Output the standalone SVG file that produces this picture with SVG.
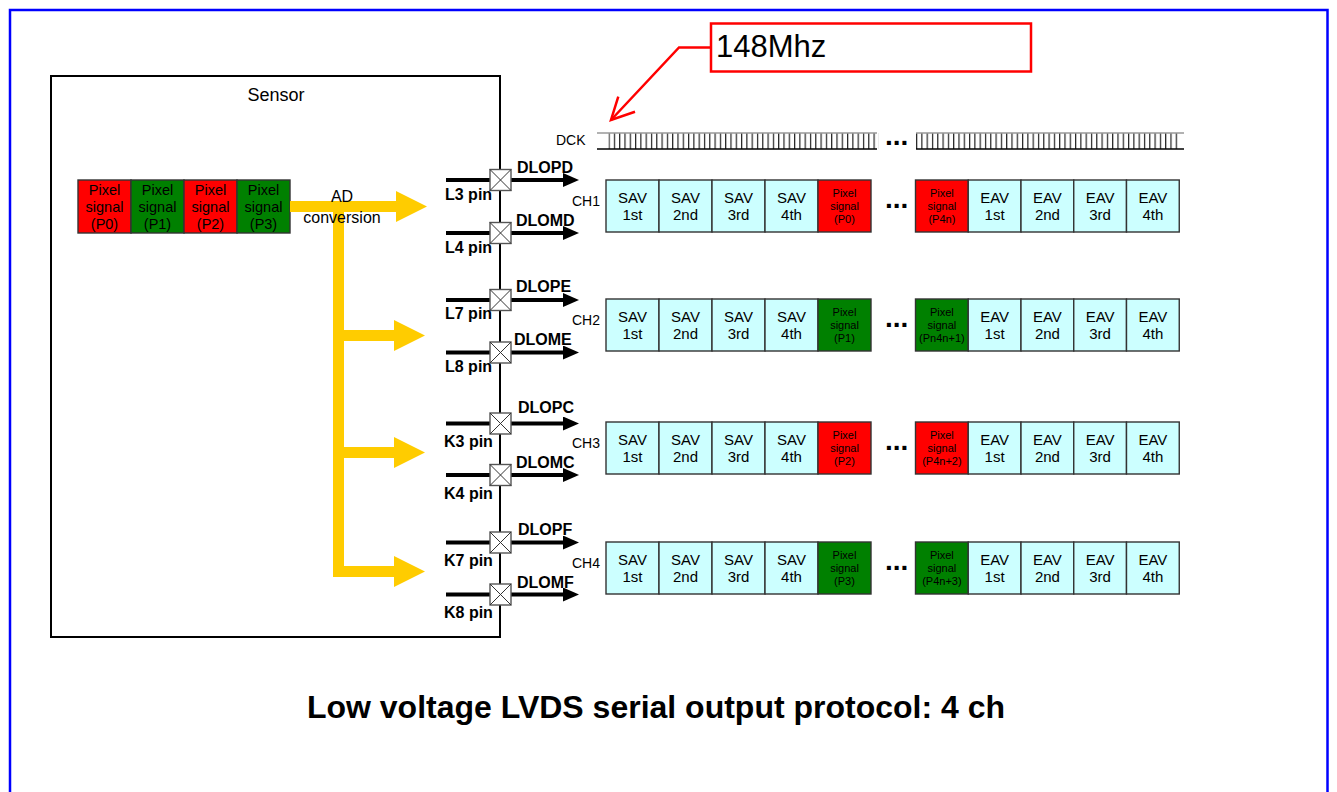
<svg xmlns="http://www.w3.org/2000/svg" width="1337" height="792" viewBox="0 0 1337 792">
<defs>
<style>
text{font-family:"Liberation Sans",Arial,sans-serif;fill:#000}
.c{text-anchor:middle}
.sav{fill:#ccffff;stroke:#333;stroke-width:1.4}
.red{fill:#ff0000;stroke:#333;stroke-width:1.4}
.grn{fill:#008000;stroke:#333;stroke-width:1.4}
.t15{font-size:15px}
.t11{font-size:11px}
.t14{font-size:14px}
.lbl{font-size:16px;font-weight:bold}
.dots{font-size:28px;font-weight:bold}
.pin{stroke:#000;stroke-width:4;fill:none}
.xbox{fill:#fff;stroke:#555;stroke-width:1.4}
.xl{stroke:#333;stroke-width:1}
.yel{fill:#ffcc00}
.clkt{stroke:#999;stroke-width:1.3;fill:none}
.clkb{stroke:#000;stroke-width:1.5;fill:none}
</style>
<marker id="ah" markerUnits="userSpaceOnUse" markerWidth="16" markerHeight="14" refX="2" refY="7" orient="auto">
<path d="M0,0 L16,7 L0,14 z" fill="#000"/>
</marker>
<pattern id="tk1" x="608.5" y="133" width="5.3" height="16" patternUnits="userSpaceOnUse"><rect x="0" y="0" width="1.2" height="16" fill="#222"/></pattern>
<pattern id="tk2" x="916" y="133" width="5.3" height="16" patternUnits="userSpaceOnUse"><rect x="0" y="0" width="1.2" height="16" fill="#222"/></pattern>
</defs>
<rect x="0" y="0" width="1337" height="792" fill="#fff"/>
<rect id="frame" x="10" y="10" width="1317.5" height="800" fill="none" stroke="#0000ff" stroke-width="2.5"/>

<g id="sensor">
<rect x="51" y="76" width="449" height="561" fill="#fff" stroke="#000" stroke-width="2"/>
<text x="276" y="101" class="c" font-size="18">Sensor</text>
</g>

<g id="pixels">
<rect x="78" y="180" width="53" height="53" class="red"/>
<rect x="131" y="180" width="53" height="53" class="grn"/>
<rect x="184" y="180" width="53" height="53" class="red"/>
<rect x="237" y="180" width="53" height="53" class="grn"/>
<g font-size="14.5" class="c">
<text x="104.5" y="195" class="c">Pixel</text><text x="104.5" y="212" class="c">signal</text><text x="104.5" y="229" class="c">(P0)</text>
<text x="157.5" y="195" class="c">Pixel</text><text x="157.5" y="212" class="c">signal</text><text x="157.5" y="229" class="c">(P1)</text>
<text x="210.5" y="195" class="c">Pixel</text><text x="210.5" y="212" class="c">signal</text><text x="210.5" y="229" class="c">(P2)</text>
<text x="263.5" y="195" class="c">Pixel</text><text x="263.5" y="212" class="c">signal</text><text x="263.5" y="229" class="c">(P3)</text>
</g>
</g>

<g id="connectors">
<g id="ad-arrows" class="yel">
<polygon points="290,201 396,201 396,191 427,206.5 396,222 396,212 290,212"/>
<rect x="333" y="212" width="11" height="365"/>
<polygon points="344,330 394,330 394,320 425,335.5 394,351 394,341 344,341"/>
<polygon points="344,447 394,447 394,437 425,452.5 394,468 394,458 344,458"/>
<polygon points="344,566 394,566 394,556 425,571.5 394,587 394,577 344,577"/>
</g>
<g id="pin-lines">
<line x1="446" y1="180" x2="490" y2="180" class="pin"/><line x1="511" y1="180" x2="565" y2="180" class="pin" marker-end="url(#ah)"/>
<line x1="446" y1="233" x2="490" y2="233" class="pin"/><line x1="511" y1="233" x2="565" y2="233" class="pin" marker-end="url(#ah)"/>
<line x1="446" y1="300" x2="490" y2="300" class="pin"/><line x1="511" y1="300" x2="565" y2="300" class="pin" marker-end="url(#ah)"/>
<line x1="446" y1="352.5" x2="490" y2="352.5" class="pin"/><line x1="511" y1="352.5" x2="565" y2="352.5" class="pin" marker-end="url(#ah)"/>
<line x1="446" y1="423.5" x2="490" y2="423.5" class="pin"/><line x1="511" y1="423.5" x2="565" y2="423.5" class="pin" marker-end="url(#ah)"/>
<line x1="446" y1="475" x2="490" y2="475" class="pin"/><line x1="511" y1="475" x2="565" y2="475" class="pin" marker-end="url(#ah)"/>
<line x1="446" y1="542.5" x2="490" y2="542.5" class="pin"/><line x1="511" y1="542.5" x2="565" y2="542.5" class="pin" marker-end="url(#ah)"/>
<line x1="446" y1="594.5" x2="490" y2="594.5" class="pin"/><line x1="511" y1="594.5" x2="565" y2="594.5" class="pin" marker-end="url(#ah)"/>
</g>
<g id="callout-arrow" fill="none" stroke="#ff0000" stroke-width="2.5" stroke-linejoin="miter">
<polyline points="710,47.5 679,47.5 611,120"/>
<polyline points="618.3,96.7 611,120 635,111.7"/>
</g>
</g>

<text x="342" y="202" class="c" font-size="16">AD</text>
<text x="342" y="222.5" class="c" font-size="16">conversion</text>

<g id="pins">
<g id="pin-L3"><rect x="490" y="169.5" width="21" height="21" class="xbox"/><path d="M490,169.5 L511,190.5 M511,169.5 L490,190.5" class="xl"/><text x="517" y="173" class="lbl">DLOPD</text><text x="445" y="200" class="lbl">L3 pin</text></g>
<g id="pin-L4"><rect x="490" y="222.5" width="21" height="21" class="xbox"/><path d="M490,222.5 L511,243.5 M511,222.5 L490,243.5" class="xl"/><text x="516" y="226" class="lbl">DLOMD</text><text x="445" y="252.5" class="lbl">L4 pin</text></g>
<g id="pin-L7"><rect x="490" y="289.5" width="21" height="21" class="xbox"/><path d="M490,289.5 L511,310.5 M511,289.5 L490,310.5" class="xl"/><text x="516" y="292" class="lbl">DLOPE</text><text x="445" y="318.5" class="lbl">L7 pin</text></g>
<g id="pin-L8"><rect x="490" y="342" width="21" height="21" class="xbox"/><path d="M490,342 L511,363 M511,342 L490,363" class="xl"/><text x="514" y="345" class="lbl">DLOME</text><text x="445" y="372" class="lbl">L8 pin</text></g>
<g id="pin-K3"><rect x="490" y="413" width="21" height="21" class="xbox"/><path d="M490,413 L511,434 M511,413 L490,434" class="xl"/><text x="518" y="413" class="lbl">DLOPC</text><text x="444" y="446.5" class="lbl">K3 pin</text></g>
<g id="pin-K4"><rect x="490" y="464.5" width="21" height="21" class="xbox"/><path d="M490,464.5 L511,485.5 M511,464.5 L490,485.5" class="xl"/><text x="516" y="468" class="lbl">DLOMC</text><text x="444" y="499" class="lbl">K4 pin</text></g>
<g id="pin-K7"><rect x="490" y="532" width="21" height="21" class="xbox"/><path d="M490,532 L511,553 M511,532 L490,553" class="xl"/><text x="518" y="535" class="lbl">DLOPF</text><text x="444" y="566" class="lbl">K7 pin</text></g>
<g id="pin-K8"><rect x="490" y="584" width="21" height="21" class="xbox"/><path d="M490,584 L511,605 M511,584 L490,605" class="xl"/><text x="517" y="587.5" class="lbl">DLOMF</text><text x="444" y="618" class="lbl">K8 pin</text></g>
</g>

<g id="callout">
<rect x="711" y="23.5" width="320" height="48" fill="#fff" stroke="#ff0000" stroke-width="2.5"/>
<text x="716" y="57" font-size="31">148Mhz</text>
</g>

<g id="dck">
<text x="556" y="145" class="t14">DCK</text>
<rect x="608.5" y="133" width="270" height="16" fill="url(#tk1)"/>
<path d="M597,133 H877" class="clkt"/><path d="M597,149 H877" class="clkb"/>
<text x="885" y="145" class="dots">...</text>
<rect x="916" y="133" width="263" height="16" fill="url(#tk2)"/>
<path d="M916,133 H1184" class="clkt"/><path d="M916,149 H1184" class="clkb"/>
</g>

<g id="ch1" transform="translate(0,180)">
<text x="572" y="26" class="t14">CH1</text>
<rect x="606" y="0" width="53" height="52" class="sav"/><rect x="659" y="0" width="53" height="52" class="sav"/><rect x="712" y="0" width="53" height="52" class="sav"/><rect x="765" y="0" width="53" height="52" class="sav"/><rect x="818" y="0" width="53" height="52" class="red"/>
<g class="t15"><text x="632.5" y="22.5" class="c">SAV</text><text x="632.5" y="40" class="c">1st</text><text x="685.5" y="22.5" class="c">SAV</text><text x="685.5" y="40" class="c">2nd</text><text x="738.5" y="22.5" class="c">SAV</text><text x="738.5" y="40" class="c">3rd</text><text x="791.5" y="22.5" class="c">SAV</text><text x="791.5" y="40" class="c">4th</text></g>
<g class="t11"><text x="844.5" y="17" class="c">Pixel</text><text x="844.5" y="30" class="c">signal</text><text x="844.5" y="43" class="c">(P0)</text></g>
<text x="885" y="27.5" class="dots">...</text>
<rect x="915.5" y="0" width="52.75" height="52" class="red"/><rect x="968.25" y="0" width="52.75" height="52" class="sav"/><rect x="1021" y="0" width="52.75" height="52" class="sav"/><rect x="1073.75" y="0" width="52.75" height="52" class="sav"/><rect x="1126.5" y="0" width="52.75" height="52" class="sav"/>
<g class="t11"><text x="941.9" y="17" class="c">Pixel</text><text x="941.9" y="30" class="c">signal</text><text x="941.9" y="43" class="c">(P4n)</text></g>
<g class="t15"><text x="994.6" y="22.5" class="c">EAV</text><text x="994.6" y="40" class="c">1st</text><text x="1047.4" y="22.5" class="c">EAV</text><text x="1047.4" y="40" class="c">2nd</text><text x="1100.1" y="22.5" class="c">EAV</text><text x="1100.1" y="40" class="c">3rd</text><text x="1152.9" y="22.5" class="c">EAV</text><text x="1152.9" y="40" class="c">4th</text></g>
</g>

<g id="ch2" transform="translate(0,299)">
<text x="572" y="26" class="t14">CH2</text>
<rect x="606" y="0" width="53" height="52" class="sav"/><rect x="659" y="0" width="53" height="52" class="sav"/><rect x="712" y="0" width="53" height="52" class="sav"/><rect x="765" y="0" width="53" height="52" class="sav"/><rect x="818" y="0" width="53" height="52" class="grn"/>
<g class="t15"><text x="632.5" y="22.5" class="c">SAV</text><text x="632.5" y="40" class="c">1st</text><text x="685.5" y="22.5" class="c">SAV</text><text x="685.5" y="40" class="c">2nd</text><text x="738.5" y="22.5" class="c">SAV</text><text x="738.5" y="40" class="c">3rd</text><text x="791.5" y="22.5" class="c">SAV</text><text x="791.5" y="40" class="c">4th</text></g>
<g class="t11"><text x="844.5" y="17" class="c">Pixel</text><text x="844.5" y="30" class="c">signal</text><text x="844.5" y="43" class="c">(P1)</text></g>
<text x="885" y="27.5" class="dots">...</text>
<rect x="915.5" y="0" width="52.75" height="52" class="grn"/><rect x="968.25" y="0" width="52.75" height="52" class="sav"/><rect x="1021" y="0" width="52.75" height="52" class="sav"/><rect x="1073.75" y="0" width="52.75" height="52" class="sav"/><rect x="1126.5" y="0" width="52.75" height="52" class="sav"/>
<g class="t11"><text x="941.9" y="17" class="c">Pixel</text><text x="941.9" y="30" class="c">signal</text><text x="941.9" y="43" class="c">(Pn4n+1)</text></g>
<g class="t15"><text x="994.6" y="22.5" class="c">EAV</text><text x="994.6" y="40" class="c">1st</text><text x="1047.4" y="22.5" class="c">EAV</text><text x="1047.4" y="40" class="c">2nd</text><text x="1100.1" y="22.5" class="c">EAV</text><text x="1100.1" y="40" class="c">3rd</text><text x="1152.9" y="22.5" class="c">EAV</text><text x="1152.9" y="40" class="c">4th</text></g>
</g>

<g id="ch3" transform="translate(0,422)">
<text x="572" y="26" class="t14">CH3</text>
<rect x="606" y="0" width="53" height="52" class="sav"/><rect x="659" y="0" width="53" height="52" class="sav"/><rect x="712" y="0" width="53" height="52" class="sav"/><rect x="765" y="0" width="53" height="52" class="sav"/><rect x="818" y="0" width="53" height="52" class="red"/>
<g class="t15"><text x="632.5" y="22.5" class="c">SAV</text><text x="632.5" y="40" class="c">1st</text><text x="685.5" y="22.5" class="c">SAV</text><text x="685.5" y="40" class="c">2nd</text><text x="738.5" y="22.5" class="c">SAV</text><text x="738.5" y="40" class="c">3rd</text><text x="791.5" y="22.5" class="c">SAV</text><text x="791.5" y="40" class="c">4th</text></g>
<g class="t11"><text x="844.5" y="17" class="c">Pixel</text><text x="844.5" y="30" class="c">signal</text><text x="844.5" y="43" class="c">(P2)</text></g>
<text x="885" y="27.5" class="dots">...</text>
<rect x="915.5" y="0" width="52.75" height="52" class="red"/><rect x="968.25" y="0" width="52.75" height="52" class="sav"/><rect x="1021" y="0" width="52.75" height="52" class="sav"/><rect x="1073.75" y="0" width="52.75" height="52" class="sav"/><rect x="1126.5" y="0" width="52.75" height="52" class="sav"/>
<g class="t11"><text x="941.9" y="17" class="c">Pixel</text><text x="941.9" y="30" class="c">signal</text><text x="941.9" y="43" class="c">(P4n+2)</text></g>
<g class="t15"><text x="994.6" y="22.5" class="c">EAV</text><text x="994.6" y="40" class="c">1st</text><text x="1047.4" y="22.5" class="c">EAV</text><text x="1047.4" y="40" class="c">2nd</text><text x="1100.1" y="22.5" class="c">EAV</text><text x="1100.1" y="40" class="c">3rd</text><text x="1152.9" y="22.5" class="c">EAV</text><text x="1152.9" y="40" class="c">4th</text></g>
</g>

<g id="ch4" transform="translate(0,542)">
<text x="572" y="26" class="t14">CH4</text>
<rect x="606" y="0" width="53" height="52" class="sav"/><rect x="659" y="0" width="53" height="52" class="sav"/><rect x="712" y="0" width="53" height="52" class="sav"/><rect x="765" y="0" width="53" height="52" class="sav"/><rect x="818" y="0" width="53" height="52" class="grn"/>
<g class="t15"><text x="632.5" y="22.5" class="c">SAV</text><text x="632.5" y="40" class="c">1st</text><text x="685.5" y="22.5" class="c">SAV</text><text x="685.5" y="40" class="c">2nd</text><text x="738.5" y="22.5" class="c">SAV</text><text x="738.5" y="40" class="c">3rd</text><text x="791.5" y="22.5" class="c">SAV</text><text x="791.5" y="40" class="c">4th</text></g>
<g class="t11"><text x="844.5" y="17" class="c">Pixel</text><text x="844.5" y="30" class="c">signal</text><text x="844.5" y="43" class="c">(P3)</text></g>
<text x="885" y="27.5" class="dots">...</text>
<rect x="915.5" y="0" width="52.75" height="52" class="grn"/><rect x="968.25" y="0" width="52.75" height="52" class="sav"/><rect x="1021" y="0" width="52.75" height="52" class="sav"/><rect x="1073.75" y="0" width="52.75" height="52" class="sav"/><rect x="1126.5" y="0" width="52.75" height="52" class="sav"/>
<g class="t11"><text x="941.9" y="17" class="c">Pixel</text><text x="941.9" y="30" class="c">signal</text><text x="941.9" y="43" class="c">(P4n+3)</text></g>
<g class="t15"><text x="994.6" y="22.5" class="c">EAV</text><text x="994.6" y="40" class="c">1st</text><text x="1047.4" y="22.5" class="c">EAV</text><text x="1047.4" y="40" class="c">2nd</text><text x="1100.1" y="22.5" class="c">EAV</text><text x="1100.1" y="40" class="c">3rd</text><text x="1152.9" y="22.5" class="c">EAV</text><text x="1152.9" y="40" class="c">4th</text></g>
</g>

<text id="title" x="656" y="718" class="c" font-size="32" font-weight="bold">Low voltage LVDS serial output protocol: 4 ch</text>
</svg>
